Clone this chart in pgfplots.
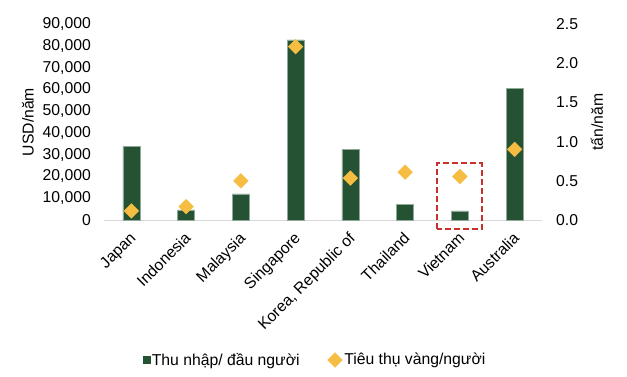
\documentclass[border=0pt]{standalone}
\usepackage{pgfplots}
\pgfplotsset{compat=1.18}
\usepackage{fontspec}
\setmainfont{Liberation Sans}
\definecolor{barg}{HTML}{245233}
\definecolor{gold}{HTML}{F5BD42}
\definecolor{boxred}{HTML}{C8312B}
\begin{document}
\begin{tikzpicture}[font=\fontsize{15.8}{18}\selectfont]
\useasboundingbox (-104bp,-157bp) rectangle (523bp,220bp);
\begin{axis}[
  scale only axis, width=438bp, height=196bp,
  xmin=-0.5, xmax=7.5, ymin=0, ymax=90000,
  xtick={0,...,7},
  xticklabels={Japan,Indonesia,Malaysia,Singapore,{Korea, Republic of},Thailand,Vietnam,Australia},
  ytick={0,10000,...,90000},
  axis x line*=bottom, axis y line*=left,
  y axis line style={draw=none},
  x axis line style={draw=black!15, line width=0.8bp, -},
  tick style={draw=none},
  /pgf/number format/assume math mode=true,
  /pgf/number format/1000 sep={,},
  scaled y ticks=false,
  yticklabel style={inner sep=0pt, xshift=-13bp},
  xticklabel style={inner sep=0pt, xshift=-2.5bp, yshift=-11bp, rotate=45, anchor=north east},
  ylabel={USD/năm},
  ylabel style={at={(axis description cs:-0.1735,0.5)}, anchor=center},
  clip=false,
]
\addplot[ybar, bar width=17bp, fill=barg, draw=barg!50!white, line width=0.4bp]
  coordinates {(0,33800) (1,4600) (2,12000) (3,82750) (4,32300) (5,7070) (6,4150) (7,60460)};
\draw[boxred, line width=2bp, dash pattern=on 6bp off 3bp]
  (axis cs:5.59,-4150) rectangle (axis cs:6.40,26170);
\end{axis}
\begin{axis}[
  scale only axis, width=438bp, height=196bp,
  xmin=-0.5, xmax=7.5, ymin=0, ymax=2.5,
  axis x line=none, axis y line*=right,
  y axis line style={draw=none},
  tick style={draw=none},
  ytick={0,0.5,...,2.5},
  /pgf/number format/assume math mode=true,
  yticklabel style={inner sep=0pt, xshift=14bp, anchor=west, /pgf/number format/.cd, fixed, fixed zerofill, precision=1},
  ylabel={tấn/năm},
  ylabel style={at={(axis description cs:1.1256,0.5)}, anchor=center},
  legend columns=2,
  legend style={at={(axis description cs:0.482,-0.714)}, anchor=center, draw=none, fill=none,
    font=\fontsize{15.8}{18}\selectfont,
    /tikz/every even column/.append style={column sep=26bp}},
  legend cell align=left,
  clip=false,
]
\addlegendimage{only marks, mark=square*, mark size=3.5bp, color=barg}
\addlegendentry{Thu nhập/ đầu người}
\addplot[only marks, mark=square*, mark size=5.2bp, color=gold, mark options={rotate=45}]
  coordinates {(0,0.115) (1,0.17) (2,0.50) (3,2.21) (4,0.535) (5,0.61) (6,0.555) (7,0.90)};
\addlegendentry{Tiêu thụ vàng/người}
\end{axis}
\end{tikzpicture}
\end{document}
